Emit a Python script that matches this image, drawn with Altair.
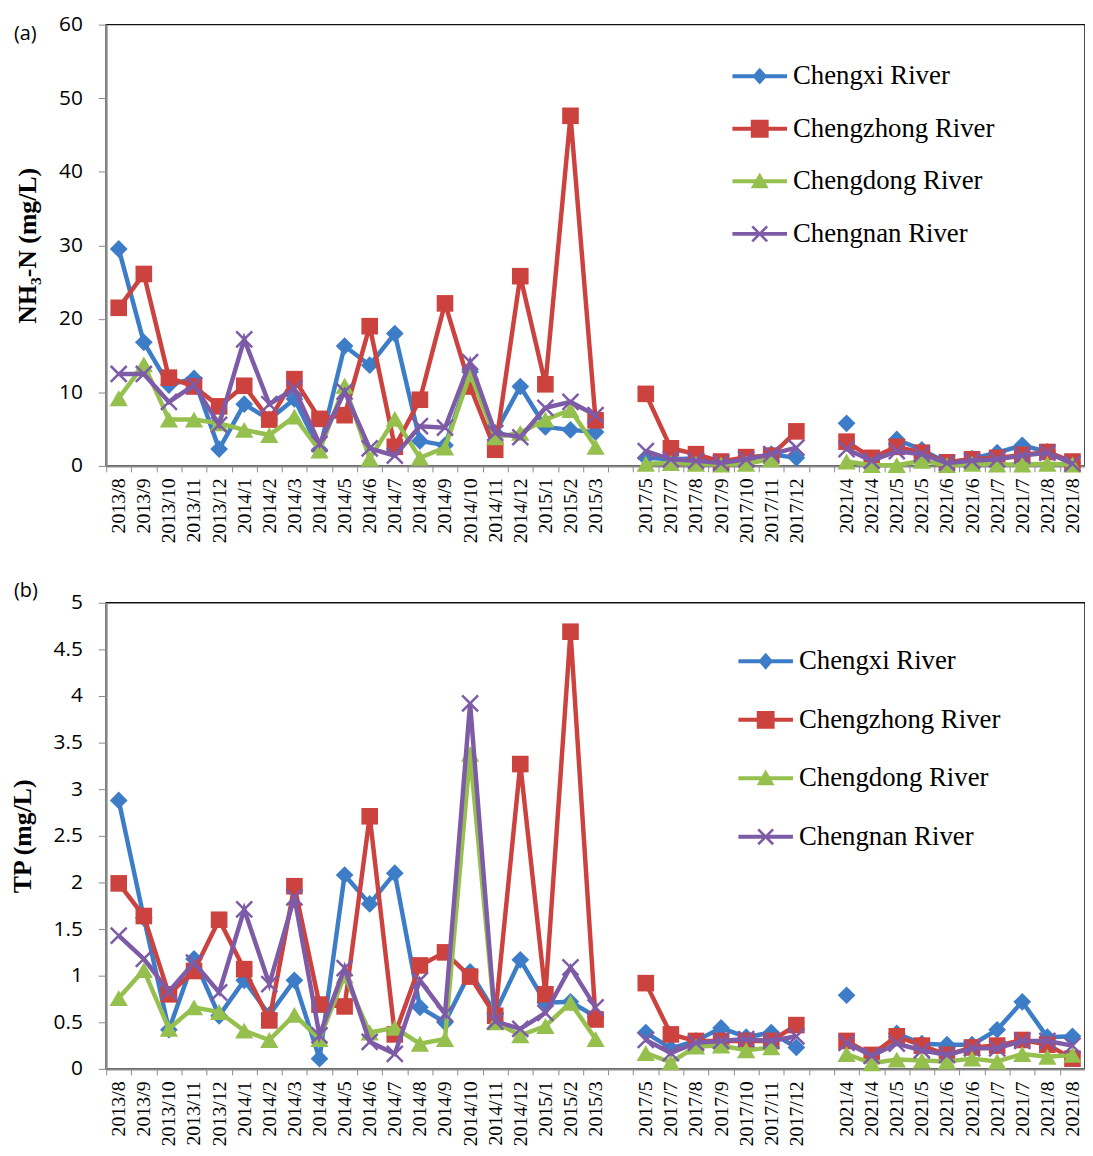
import json
import altair as alt
import pandas as pd

periods = ["2013/8", "2013/9", "2013/10", "2013/11", "2013/12", "2014/1", "2014/2", "2014/3",
           "2014/4", "2014/5", "2014/6", "2014/7", "2014/8", "2014/9", "2014/10", "2014/11",
           "2014/12", "2015/1", "2015/2", "2015/3", "",
           "2017/5", "2017/7", "2017/8", "2017/9", "2017/10", "2017/11", "2017/12", "",
           "2021/4", "2021/4", "2021/5", "2021/5", "2021/6", "2021/6", "2021/7", "2021/7",
           "2021/8", "2021/8"]

rivers = ["Chengxi River", "Chengzhong River", "Chengdong River", "Chengnan River"]
colors = ["#3D7DC8", "#CC423E", "#96C04E", "#7D5BA6"]

# NH3-N (mg/L)
nh3_chengxi = [29.5, 16.8, 11.0, 11.9, 2.3, 8.4, 6.3, 9.1, 2.2, 16.3, 13.7, 18.0, 3.4, 2.8, 12.8,
               4.5, 10.8, 5.3, 4.9, 4.6, None, 1.1, 0.9, 1.0, 0.4, 0.9, 1.6, 1.1, None,
               5.8, None, 3.6, 2.2, 0.4, 1.0, 1.8, 2.8, 1.9, 0.4]
nh3_chengzhong = [21.5, 26.1, 12.0, 10.8, 8.1, 10.9, 6.3, 11.8, 6.4, 6.9, 19.0, 2.6, 9.0, 22.1, 10.8,
                  2.2, 25.8, 11.1, 47.6, 6.2, None, 9.8, 2.4, 1.6, 0.6, 1.2, 1.4, 4.7, None,
                  3.3, 1.1, 2.6, 1.8, 0.5, 0.9, 1.1, 1.5, 1.9, 0.6]
nh3_chengdong = [9.2, 13.8, 6.3, 6.3, 5.8, 4.9, 4.2, 6.7, 2.1, 10.9, 1.0, 6.4, 1.1, 2.5, 12.5,
                 3.9, 4.5, 6.3, 7.6, 2.6, None, 0.3, 0.4, 0.3, 0.2, 0.3, 0.9, None, None,
                 0.6, 0.1, 0.1, 0.7, 0.1, 0.3, 0.2, 0.2, 0.3, 0.2]
nh3_chengnan = [12.5, 12.5, 8.7, 11.0, 5.6, 17.2, 8.4, 10.5, 3.0, 10.1, 2.4, 1.4, 5.4, 5.2, 14.1,
                4.5, 3.9, 7.9, 8.7, 6.9, None, 2.0, 0.9, 0.7, 0.4, 0.9, 1.6, 2.5, None,
                2.3, 0.7, 2.0, 1.6, 0.4, 0.7, 0.9, 1.4, 1.8, 0.3]

# TP (mg/L)
tp_chengxi = [2.88, 1.62, 0.42, 1.18, 0.57, 0.95, 0.58, 0.95, 0.11, 2.08, 1.77, 2.10, 0.66, 0.50, 1.04,
              0.60, 1.17, 0.71, 0.72, 0.56, None, 0.39, 0.22, 0.30, 0.44, 0.34, 0.39, 0.23, None,
              0.79, None, 0.38, 0.27, 0.26, 0.26, 0.42, 0.72, 0.34, 0.35]
tp_chengzhong = [1.99, 1.64, 0.80, 1.05, 1.60, 1.07, 0.52, 1.96, 0.69, 0.67, 2.71, 0.37, 1.11, 1.25, 0.99,
                 0.57, 3.27, 0.80, 4.69, 0.53, None, 0.92, 0.37, 0.30, 0.30, 0.30, 0.30, 0.47, None,
                 0.30, 0.15, 0.35, 0.25, 0.15, 0.23, 0.25, 0.31, 0.26, 0.11]
tp_chengdong = [0.76, 1.06, 0.43, 0.66, 0.61, 0.41, 0.31, 0.58, 0.32, 1.00, 0.39, 0.44, 0.27, 0.32, 3.38,
                0.50, 0.36, 0.46, 0.71, 0.32, None, 0.17, 0.07, 0.24, 0.25, 0.20, 0.23, None, None,
                0.16, 0.06, 0.10, 0.09, 0.08, 0.11, 0.08, 0.16, 0.13, 0.15]
tp_chengnan = [1.43, 1.18, 0.83, 1.14, 0.82, 1.71, 0.91, 1.84, 0.36, 1.08, 0.29, 0.16, 0.95, 0.59, 3.92,
               0.51, 0.43, 0.60, 1.09, 0.66, None, 0.31, 0.17, 0.28, 0.30, 0.32, 0.30, 0.35, None,
               0.28, 0.14, 0.27, 0.20, 0.15, 0.22, 0.22, 0.30, 0.30, 0.25]

nh3_ticks = [0, 10, 20, 30, 40, 50, 60]
tp_ticks = [0, 0.5, 1, 1.5, 2, 2.5, 3, 3.5, 4, 4.5, 5]


def long_table(series):
    rows = []
    for river, vals in zip(rivers, series):
        for i, v in enumerate(vals):
            rows.append({"idx": i, "river": river, "value": v})
    return pd.DataFrame(rows)


# legend symbol paths (line through marker), unit scale = 10 px
LINE = "M-2.75,-0.2H2.75V0.2H-2.75Z"
leg_paths = [
    LINE + "M0,-0.85L0.75,0L0,0.85L-0.75,0Z",
    LINE + "M-0.9,-0.9H0.9V0.9H-0.9Z",
    LINE + "M0,-0.9L0.9,0.7L-0.9,0.7Z",
    LINE + "M-0.658,-0.842L0.842,0.658L0.658,0.842L-0.842,-0.658Z"
           "M-0.658,0.842L-0.842,0.658L0.658,-0.842L0.842,-0.658Z",
]

label_expr = json.dumps(periods) + "[datum.value]"
XPATH = "M-1,-1L1,1M-1,1L1,-1"


def panel(series, ytitle, ymax, ticks, width, height, letter, letter_y, lx, ly, row_pad):
    df = long_table(series)
    x = alt.X("idx:O",
              scale=alt.Scale(type="band", domain=list(range(len(periods))), paddingInner=0, paddingOuter=0),
              axis=alt.Axis(title=None, labelExpr=label_expr, labelAngle=-90, labelAlign="right",
                            labelBaseline="middle", tickBand="extent", labelFont="Liberation Serif",
                            labelFontSize=20, labelColor="#000", tickSize=6, tickColor="#8a8a8a",
                            domainColor="#8a8a8a", domainWidth=2, labelPadding=6, labelOverlap=False))
    y = alt.Y("value:Q", scale=alt.Scale(domain=[0, ymax], nice=False, zero=True),
              axis=alt.Axis(title=ytitle, values=ticks, format="~r", grid=False,
                            labelFont="Open Sans", labelFontSize=21, labelColor="#000",
                            tickSize=8, tickColor="#8a8a8a", domainColor="#8a8a8a", domainWidth=2,
                            labelPadding=16, titleFont="Liberation Serif", titleFontWeight="bold",
                            titleFontSize=26, titleColor="#000", titlePadding=18))
    legend = alt.Legend(
        title=None, orient="none", legendX=lx, legendY=ly, symbolSize=400,
        labelFont="Liberation Serif", labelFontSize=27, labelColor="#000", labelOffset=20,
        rowPadding=row_pad, labelLimit=400, padding=0, symbolStrokeWidth=0, symbolOpacity=1)
    base = alt.Chart(df)
    layers = []
    marks = [("diamond", 320, True), ("square", 280, True), ("triangle-up", 340, True), (XPATH, 260, False)]
    for r, c, (shape, size, filled) in zip(rivers, colors, marks):
        sub = base.transform_filter(alt.datum.river == r)
        layers.append(sub.mark_line(strokeWidth=4.5, color=c).encode(x=x, y=y))
        if filled:
            pt = sub.mark_point(shape=shape, size=size, filled=True, color=c, opacity=1)
        else:
            pt = sub.mark_point(shape=shape, size=size, filled=False, color=c, opacity=1, strokeWidth=2.5)
        layers.append(pt.encode(x=x, y=y))
    # legend carrier: draws no marks, only supplies the legend from its scales
    ghost = base.transform_filter("false").mark_point(filled=True, opacity=1, size=400).encode(
        x=x, y=y,
        color=alt.Color("river:N", scale=alt.Scale(domain=rivers, range=colors), legend=legend),
        shape=alt.Shape("river:N", scale=alt.Scale(domain=rivers, range=leg_paths), legend=legend),
    )
    layers.append(ghost)
    tag = alt.Chart(pd.DataFrame({"t": [letter]})).mark_text(
        align="left", baseline="middle", font="Open Sans", fontSize=20, color="#000"
    ).encode(x=alt.value(-93), y=alt.value(letter_y), text="t:N")
    layers.append(tag)
    return alt.layer(*layers).properties(width=width, height=height)


pa = panel([nh3_chengxi, nh3_chengzhong, nh3_chengdong, nh3_chengnan], "NH\u2083-N (mg/L)", 60, nh3_ticks,
           987, 445, "(a)", 10, 645.5, 38.5, 25)
pb = panel([tp_chengxi, tp_chengzhong, tp_chengdong, tp_chengnan], "TP (mg/L)", 5, tp_ticks,
           987, 470, "(b)", -12, 651.5, 45.5, 31)

chart = alt.vconcat(pa, pb, spacing=36).resolve_scale(color="independent", shape="independent").configure(
    padding={"left": 0, "top": 0, "right": -2, "bottom": -4}
).configure_view(stroke="#111", strokeWidth=1.5)

chart.save("out.html", embed_options={"renderer": "svg", "actions": False})
